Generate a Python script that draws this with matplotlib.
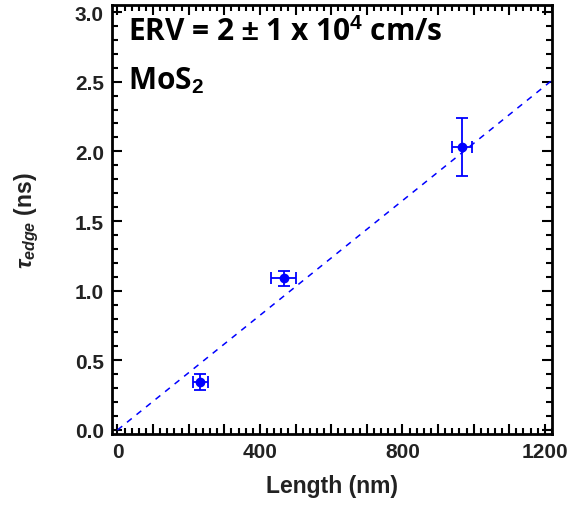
import numpy as np
import matplotlib
matplotlib.use("Agg")
import matplotlib.pyplot as plt
from matplotlib.ticker import MultipleLocator, FuncFormatter

# Datos
longitud = [232, 467, 968]          # nm
tau_edge = [0.346, 1.089, 2.03]     # ns
err_x = [21, 35, 28]
err_y = [0.058, 0.055, 0.21]

# Ajuste lineal (ERV)
fit_x = [0, 1220]
fit_y = [0, 2.51]

azul = "#0000ff"

plt.rcParams["font.family"] = ["Liberation Sans", "DejaVu Sans"]
plt.rcParams["mathtext.fontset"] = "custom"
plt.rcParams["mathtext.it"] = "Liberation Sans:italic:bold"
plt.rcParams["mathtext.rm"] = "Liberation Sans:bold"

fig = plt.figure(figsize=(5.78, 5.06), dpi=100)
ax = fig.add_axes([0.194, 0.140, 0.761, 0.848])

ax.plot(fit_x, fit_y, color=azul, lw=1.1, ls=(0, (4, 4)))
ax.errorbar(longitud, tau_edge, xerr=err_x, yerr=err_y, fmt="o", color=azul,
            ms=6, elinewidth=1.3, capsize=4, capthick=1.3)

ax.set_xlim(-15, 1220)
ax.set_ylim(-0.03, 3.05)

# ticks: mayores cada 100 (etiqueta solo cada 400), menores cada 20
ax.xaxis.set_major_locator(MultipleLocator(100))
ax.xaxis.set_minor_locator(MultipleLocator(20))
ax.xaxis.set_major_formatter(FuncFormatter(
    lambda v, p: f"{v:.0f}" if abs(v % 400) < 1e-6 else ""))
ax.yaxis.set_major_locator(MultipleLocator(0.5))
ax.yaxis.set_minor_locator(MultipleLocator(0.1))
ax.yaxis.set_major_formatter(matplotlib.ticker.FormatStrFormatter("%.1f"))

ax.tick_params(which="both", direction="in", top=True, right=True, width=1.5)
ax.tick_params(which="major", length=7, labelsize=15, pad=6)
ax.tick_params(which="minor", length=4)
for lab in ax.get_xticklabels() + ax.get_yticklabels():
    lab.set_fontweight("bold")
    lab.set_color("#222222")

for s in ax.spines.values():
    s.set_linewidth(2)

ax.set_xlabel("Length (nm)", fontsize=16.5, fontweight="bold", labelpad=9, color="#222222")
ax.set_ylabel(r"$\tau_{edge}$ (ns)", fontsize=16.5, fontweight="bold", labelpad=24, color="#222222")

ax.text(0.035, 0.972, r"ERV = 2 $\pm$ 1 x 10$^{4}$ cm/s", transform=ax.transAxes,
        fontsize=21.5, fontweight="bold", va="top", ha="left", family=["Open Sans", "DejaVu Sans"])
ax.text(0.035, 0.862, r"MoS$_{2}$", transform=ax.transAxes,
        fontsize=21.5, fontweight="bold", va="top", ha="left", family=["Open Sans", "DejaVu Sans"])

fig.savefig("out.png", dpi=100)
